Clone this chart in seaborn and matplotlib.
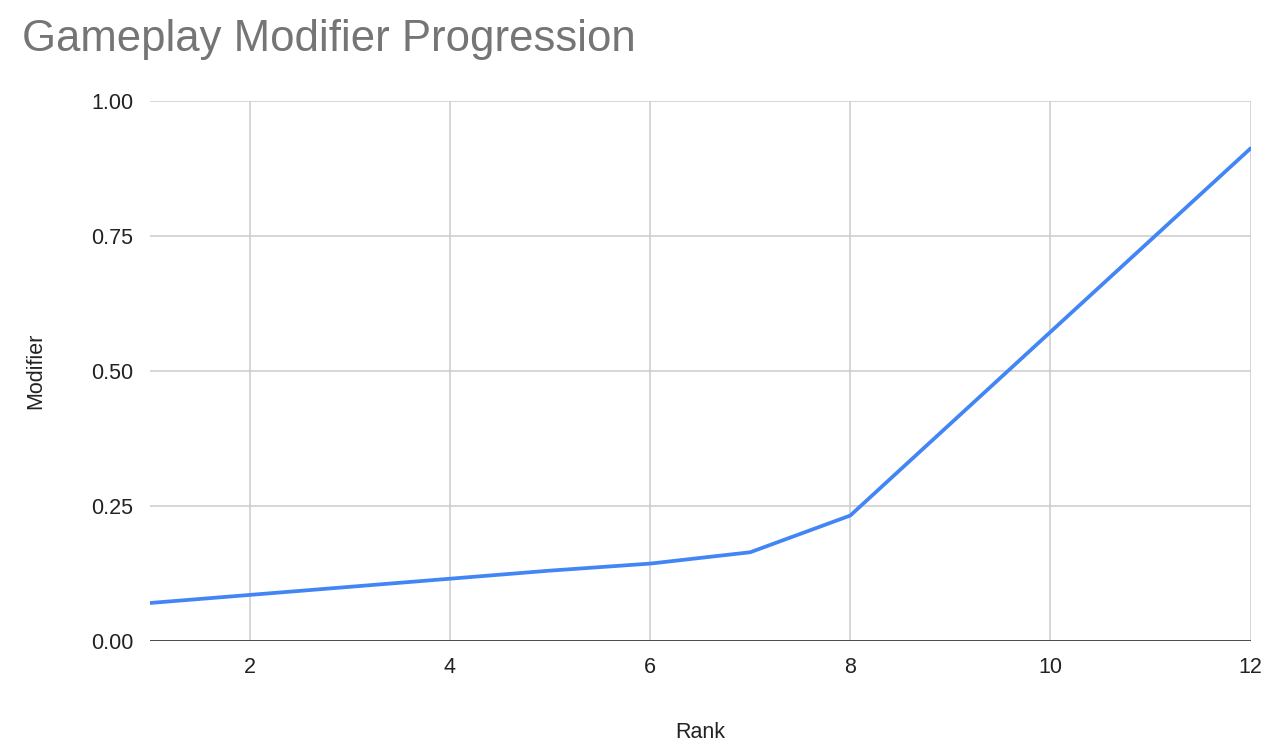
import pandas as pd
import matplotlib
matplotlib.use("Agg")
import matplotlib.pyplot as plt
import seaborn as sns

# data
ranks = [1, 2, 3, 4, 5, 6, 7, 8, 9, 10, 11, 12]
modifier = [0.07, 0.085, 0.10, 0.115, 0.13, 0.143, 0.164, 0.232, 0.402, 0.572, 0.742, 0.912]
y_ticks = [0.0, 0.25, 0.5, 0.75, 1.0]
x_ticks = [2, 4, 6, 8, 10, 12]

df = pd.DataFrame({"Rank": ranks, "Modifier": modifier})

sns.set_style("white")
plt.rcParams["font.family"] = ["Liberation Sans", "DejaVu Sans"]

fig = plt.figure(figsize=(12.8, 7.53), dpi=100)
ax = fig.add_axes([0.117, 0.149, 0.86, 0.717])

sns.lineplot(data=df, x="Rank", y="Modifier", color="#4285F4", linewidth=2.7, ax=ax)

ax.set_xlim(1, 12)
ax.set_ylim(0, 1)
ax.set_xticks(x_ticks)
ax.set_yticks(y_ticks)
ax.set_yticklabels([f"{v:.2f}" for v in y_ticks])
ax.grid(True, color="#cccccc", linewidth=1.1)
ax.axhline(0, color="#333333", linewidth=1.2, zorder=1)
for s in ax.spines.values():
    s.set_visible(False)
ax.tick_params(axis="both", length=0, labelsize=15.5, colors="#222222")
ax.tick_params(axis="y", pad=12)
ax.tick_params(axis="x", pad=12)

ax.set_xlabel("Rank", fontsize=15.5, color="#222222", labelpad=31)
ax.set_ylabel("Modifier", fontsize=15.5, color="#222222", labelpad=32)

fig.text(0.017, 0.947, "Gameplay Modifier Progression", fontsize=31.5,
         color="#757575", ha="left", va="center")

fig.savefig("out.png", dpi=100)
